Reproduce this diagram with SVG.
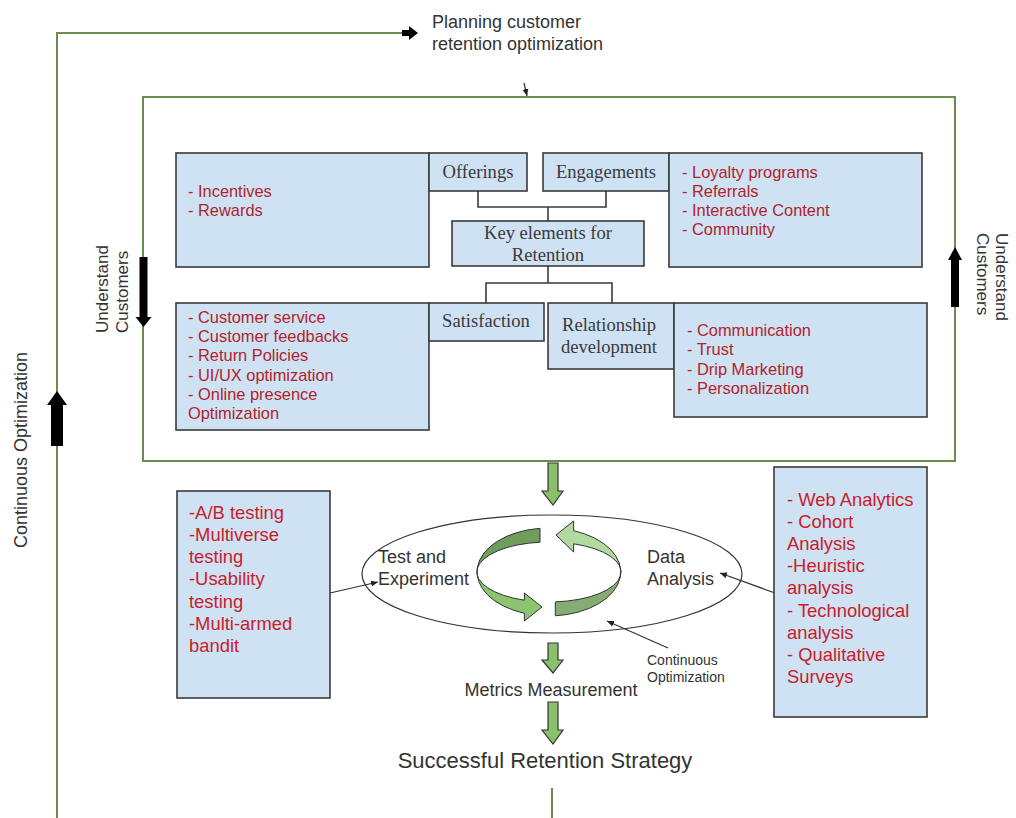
<svg xmlns="http://www.w3.org/2000/svg" width="1016" height="818" viewBox="0 0 1016 818">
<style>
.box{fill:#cfe2f3;stroke:#3a3a3a;stroke-width:1.6}
.lbl{font-family:"Liberation Serif",serif;font-size:18.6px;fill:#3a3a3a}
.red{font-family:"Liberation Sans",Arial,sans-serif;font-size:16.4px;fill:#b0222c}
.red2{font-family:"Liberation Sans",Arial,sans-serif;font-size:18.4px;fill:#c8202a}
.txt{font-family:"Liberation Sans",Arial,sans-serif;font-size:18px;fill:#333}
.side{font-family:"Liberation Sans",Arial,sans-serif;font-size:17px;fill:#333}
.big{font-family:"Liberation Sans",Arial,sans-serif;font-size:22px;fill:#333}
.small{font-family:"Liberation Sans",Arial,sans-serif;font-size:14px;fill:#333}
.gl{fill:none;stroke:#6a8c4f;stroke-width:2}
.tl{fill:none;stroke:#3a3a3a;stroke-width:1.6}
.thin{fill:none;stroke:#333;stroke-width:1.2}
.garrow{fill:#8bc06a;stroke:#333;stroke-width:1.2}
.barrow{fill:#000}
</style>
<defs>
<marker id="ah" markerWidth="8" markerHeight="8" refX="7" refY="4" orient="auto" markerUnits="userSpaceOnUse">
<path d="M0,1 L7,4 L0,7 Z" fill="#222"/>
</marker>
<linearGradient id="gL" gradientUnits="userSpaceOnUse" x1="0" y1="528" x2="0" y2="621">
<stop offset="0" stop-color="#6f9e5c"/><stop offset="0.473" stop-color="#6f9e5c"/>
<stop offset="0.473" stop-color="#8cc46f"/><stop offset="1" stop-color="#8cc46f"/>
</linearGradient>
<linearGradient id="gR" gradientUnits="userSpaceOnUse" x1="0" y1="521" x2="0" y2="616">
<stop offset="0" stop-color="#b2d9a0"/><stop offset="0.537" stop-color="#b2d9a0"/>
<stop offset="0.537" stop-color="#86ab73"/><stop offset="1" stop-color="#86ab73"/>
</linearGradient>
</defs>
<rect width="1016" height="818" fill="#fff"/>

<g id="connectors">
<polyline class="gl" points="57,818 57,33 404,33"/>
<path class="barrow" d="M402,30 L409,30 L409,26 L418,33 L409,40 L409,36 L402,36 Z"/>
<line class="thin" x1="524" y1="83" x2="527" y2="96" marker-end="url(#ah)"/>
<rect class="gl" x="143" y="97" width="812" height="364"/>
<polyline class="tl" points="478,191 478,207 606,207 606,191"/>
<line class="tl" x1="548" y1="207" x2="548" y2="221"/>
<line class="tl" x1="548" y1="266" x2="548" y2="283"/>
<polyline class="tl" points="486,303 486,283 612,283 612,303"/>
<line class="thin" x1="330" y1="593" x2="378" y2="582" marker-end="url(#ah)"/>
<line class="thin" x1="775" y1="593" x2="720" y2="573" marker-end="url(#ah)"/>
<line class="thin" x1="668" y1="648" x2="607" y2="621" marker-end="url(#ah)"/>
<line class="gl" x1="552" y1="788" x2="552" y2="818"/>
<path class="barrow" d="M51,446 L51,405 L47,405 L57,391 L67,405 L63,405 L63,446 Z"/>
<path class="barrow" d="M139.5,257 L147.5,257 L147.5,317 L151.5,317 L143.5,327 L135.5,317 L139.5,317 Z"/>
<path class="barrow" d="M951,307 L959,307 L959,260 L962,260 L955,247 L948,260 L951,260 Z"/>
<path class="garrow" d="M548,463 L558,463 L558,491 L563,491 L553,505 L542,491 L548,491 Z"/>
<path class="garrow" d="M548,643 L558,643 L558,660 L563,660 L553,673 L542,660 L548,660 Z"/>
<path class="garrow" d="M548,702 L558,702 L558,730 L563,730 L553,744 L542,730 L548,730 Z"/>
</g>

<g id="labels">
<text class="txt" x="432" y="28">Planning customer</text>
<text class="txt" x="432" y="50">retention optimization</text>
<text class="txt" transform="translate(27,548) rotate(-90)">Continuous Optimization</text>
<text class="side" transform="translate(108,333) rotate(-90)">Understand</text>
<text class="side" transform="translate(128,333) rotate(-90)">Customers</text>
<text class="side" transform="translate(996,233) rotate(90)">Understand</text>
<text class="side" transform="translate(977,233) rotate(90)">Customers</text>
</g>

<g id="n-incentives">
<rect class="box" x="176" y="153" width="253" height="114"/>
<text class="red" x="188" y="197">- Incentives</text>
<text class="red" x="188" y="216">- Rewards</text>
</g>
<g id="n-offerings">
<rect class="box" x="429" y="153" width="98" height="38"/>
<text class="lbl" x="478" y="178" text-anchor="middle">Offerings</text>
</g>
<g id="n-engagements">
<rect class="box" x="543" y="153" width="126" height="38"/>
<text class="lbl" x="606" y="178" text-anchor="middle">Engagements</text>
</g>
<g id="n-loyalty">
<rect class="box" x="669" y="153" width="253" height="114"/>
<text class="red" x="682" y="178">- Loyalty programs</text>
<text class="red" x="682" y="197">- Referrals</text>
<text class="red" x="682" y="216">- Interactive Content</text>
<text class="red" x="682" y="235">- Community</text>
</g>
<g id="n-key">
<rect class="box" x="452" y="221" width="192" height="45"/>
<text class="lbl" x="548" y="239" text-anchor="middle">Key elements for</text>
<text class="lbl" x="548" y="261" text-anchor="middle">Retention</text>
</g>
<g id="n-service">
<rect class="box" x="176" y="303" width="253" height="127"/>
<text class="red" x="188" y="323">- Customer service</text>
<text class="red" x="188" y="342">- Customer feedbacks</text>
<text class="red" x="188" y="361">- Return Policies</text>
<text class="red" x="188" y="381">- UI/UX optimization</text>
<text class="red" x="188" y="400">- Online presence</text>
<text class="red" x="188" y="419">Optimization</text>
</g>
<g id="n-satisfaction">
<rect class="box" x="429" y="303" width="115" height="38"/>
<text class="lbl" x="486" y="327" text-anchor="middle">Satisfaction</text>
</g>
<g id="n-relationship">
<rect class="box" x="548" y="303" width="126" height="66"/>
<text class="lbl" x="609" y="331" text-anchor="middle">Relationship</text>
<text class="lbl" x="609" y="353" text-anchor="middle">development</text>
</g>
<g id="n-communication">
<rect class="box" x="674" y="303" width="253" height="114"/>
<text class="red" x="687" y="336">- Communication</text>
<text class="red" x="687" y="355">- Trust</text>
<text class="red" x="687" y="375">- Drip Marketing</text>
<text class="red" x="687" y="394">- Personalization</text>
</g>

<g id="n-testing">
<rect class="box" x="177" y="491" width="153" height="207"/>
<text class="red2" x="189" y="519">-A/B testing</text>
<text class="red2" x="189" y="541">-Multiverse</text>
<text class="red2" x="189" y="563">testing</text>
<text class="red2" x="189" y="585">-Usability</text>
<text class="red2" x="189" y="608">testing</text>
<text class="red2" x="189" y="630">-Multi-armed</text>
<text class="red2" x="189" y="652">bandit</text>
</g>
<g id="n-analytics">
<rect class="box" x="774" y="467" width="153" height="250"/>
<text class="red2" x="787" y="506">- Web Analytics</text>
<text class="red2" x="787" y="528">- Cohort</text>
<text class="red2" x="787" y="550">Analysis</text>
<text class="red2" x="787" y="572">-Heuristic</text>
<text class="red2" x="787" y="594">analysis</text>
<text class="red2" x="787" y="617">- Technological</text>
<text class="red2" x="787" y="639">analysis</text>
<text class="red2" x="787" y="661">- Qualitative</text>
<text class="red2" x="787" y="683">Surveys</text>
</g>

<g id="n-cycle">
<ellipse cx="552" cy="574" rx="190" ry="59" fill="none" stroke="#333" stroke-width="1.2"/>
<path d="M540,528.3 A72,44 0 0,0 524.4,613.3 L524.4,621 L542,607 L524.4,593 L524.4,600.2 A72,30 0 0,1 540,542.2 Z" fill="url(#gL)" stroke="#333" stroke-width="1"/>
<path d="M555.3,615.8 A72,44 0 0,0 573.6,530.7 L573.6,521 L556,535 L573.6,552 L573.6,543.8 A72,30 0 0,1 555.3,601.9 Z" fill="url(#gR)" stroke="#333" stroke-width="1"/>
<text class="txt" x="378" y="563">Test and</text>
<text class="txt" x="378" y="585">Experiment</text>
<text class="txt" x="647" y="563">Data</text>
<text class="txt" x="647" y="585">Analysis</text>
<text class="small" x="647" y="665">Continuous</text>
<text class="small" x="647" y="682">Optimization</text>
</g>
<g id="n-metrics">
<text class="txt" x="551" y="696" text-anchor="middle">Metrics Measurement</text>
</g>
<g id="n-success">
<text class="big" x="545" y="768" text-anchor="middle">Successful Retention Strategy</text>
</g>
</svg>
